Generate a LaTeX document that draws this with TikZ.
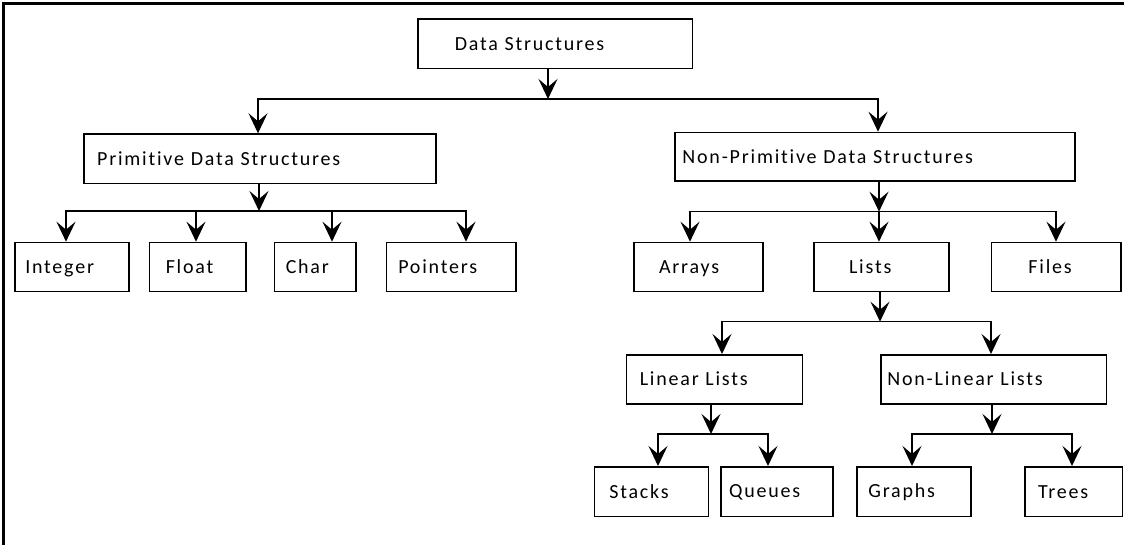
\documentclass[tikz,border=0pt]{standalone}
\usepackage{fontspec}
\setmainfont{Carlito}[LetterSpace=9, WordSpace=3.2, Ligatures=NoCommon]
\usetikzlibrary{arrows.meta}
\tikzset{
  box/.style={draw, line width=1.5pt, rectangle, inner ysep=0pt, align=left,
    font=\fontsize{20}{24}\selectfont},
  conn/.style={line width=1.4pt},
  arr/.style={conn, -{Stealth[length=20pt,width=19pt,inset=8pt]}},
  frameline/.style={line width=3.6pt}
}
\newcommand\bx[7]{%
  \pgfmathsetmacro\bxh{#5-#3}%
  \pgfmathsetmacro\bxp{#6-#2}%
  \pgfmathsetmacro\bxw{#4-#2-2*(#6-#2)}%
  \node[box, minimum height=\bxh pt, inner xsep=\bxp pt, text width=\bxw pt,
    anchor=north west] (#1) at (#2,-#3) {\rule[-2.4pt]{0pt}{17.8pt}#7};}
\begin{document}
\begin{tikzpicture}[x=1pt,y=1pt]
\useasboundingbox (0,0) rectangle (1124,-545);
\draw[frameline] (3.6,-545) -- (3.6,-3.4) -- (1124,-3.4);

% boxes: name, x0, y0, x1, y1, text start, text
\bx{ds}{417.3}{18.3}{691.7}{67.7}{454}{Data Structures}
\bx{prim}{83.2}{133.3}{435}{182.7}{96.4}{Primitive Data Structures}
\bx{np}{674}{131.7}{1074}{180.5}{681.7}{Non-Primitive Data Structures}
\bx{int}{14.3}{241.7}{128}{291}{24.5}{Integer}
\bx{flt}{148.6}{241.7}{245}{291}{165}{Float}
\bx{chr}{273.6}{241.7}{355.4}{291}{285}{Char}
\bx{ptr}{385.7}{241.7}{515}{291}{397.5}{Pointers}
\bx{ary}{633.3}{241.7}{762}{291}{658.3}{Arrays}
\bx{lst}{813.3}{241.7}{948}{291}{848.3}{Lists}
\bx{fil}{990.7}{241.7}{1120}{291}{1027.7}{Files}
\bx{lin}{625.5}{354}{801.7}{403.3}{639}{Linear Lists}
\bx{nlin}{880}{354}{1105.7}{403.3}{886.6}{Non-Linear Lists}
\bx{stk}{593.5}{466}{707.5}{515.7}{608.6}{Stacks}
\bx{que}{720}{466}{832}{515.7}{728.3}{Queues}
\bx{grp}{856}{466}{970}{515.7}{867.6}{Graphs}
\bx{tre}{1024}{466}{1121.5}{515.7}{1037.3}{Trees}

% junctions
\coordinate (j0) at (548,-99);
\coordinate (j1) at (259,-211);
\coordinate (j2) at (879,-211.7);
\coordinate (j3) at (880,-321.7);
\coordinate (j4) at (711,-434);
\coordinate (j5) at (992,-434);

% Data Structures
\draw[arr] (ds.south -| j0) -- (j0);
\draw[arr] (j0) -| (prim.north -| 258,0);
\draw[arr] (j0) -| (np.north -| 878,0);

% Primitive
\draw[arr] (prim.south -| j1) -- (j1);
\draw[arr] (j1) -| (int.north -| 66,0);
\draw[arr] (j1) -| (flt.north -| 196,0);
\draw[arr] (j1) -| (chr.north -| 332,0);
\draw[arr] (j1) -| (ptr.north -| 466,0);

% Non-Primitive
\draw[arr] (np.south -| j2) -- (j2);
\draw[arr] (j2) -| (ary.north -| 690,0);
\draw[arr] (j2) -- (lst.north -| j2);
\draw[arr] (j2) -| (fil.north -| 1056,0);

% Lists
\draw[arr] (lst.south -| j3) -- (j3);
\draw[arr] (j3) -| (lin.north -| 722,0);
\draw[arr] (j3) -| (nlin.north -| 991,0);

% Linear Lists
\draw[arr] (lin.south -| j4) -- (j4);
\draw[arr] (j4) -| (stk.north -| 658,0);
\draw[arr] (j4) -| (que.north -| 768,0);

% Non-Linear Lists
\draw[arr] (nlin.south -| j5) -- (j5);
\draw[arr] (j5) -| (grp.north -| 912,0);
\draw[arr] (j5) -| (tre.north -| 1072,0);
\end{tikzpicture}
\end{document}
